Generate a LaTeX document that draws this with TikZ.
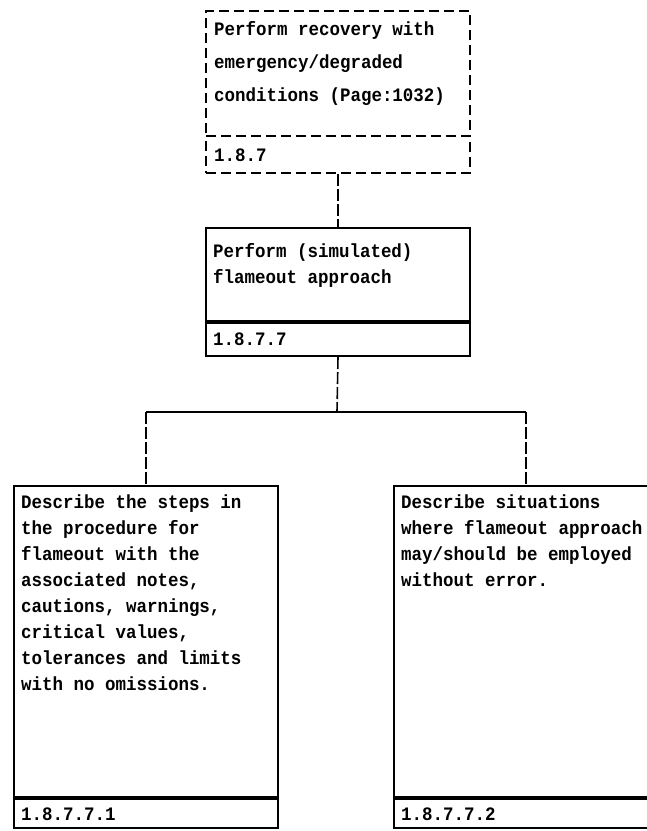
\documentclass[tikz,border=0pt]{standalone}
\usepackage{fontspec}
\setmonofont[FakeStretch=0.92]{Liberation Mono}
\begin{document}
\begin{tikzpicture}[x=1pt,y=-1pt,
  panel/.style={draw, line width=2pt, inner sep=0pt, anchor=north west, minimum width=264pt},
  dpanel/.style={panel, dash pattern=on 10pt off 5pt},
  link/.style={line width=1.6pt, dash pattern=on 12pt off 3pt},
  bar/.style={line width=1.8pt},
  txt/.style={anchor=base west, inner sep=0pt, font=\ttfamily\bfseries\fontsize{19}{26}\selectfont},
  wide/.style={txt, font=\ttfamily\bfseries\fontsize{19}{33}\selectfont},
]
\useasboundingbox (0,0) rectangle (647,831);
\clip (0,0) rectangle (647,831);

% top task (dashed)
\node[dpanel, minimum height=125pt] (topmain) at (205,10) {};
\node[dpanel, minimum height=37pt] (toplbl) at (205,135) {};
\node[wide] (toptxt) at (214,35) {\parbox[t]{250pt}{\raggedright Perform recovery with\\emergency/degraded\\conditions (Page:1032)}};
\node[txt] (topnum) at (214,161) {1.8.7};

% middle task
\node[panel, minimum height=93pt] (midmain) at (205,227) {};
\node[panel, minimum height=35pt] (midlbl) at (205,320) {};
\draw[line width=3.5pt] (midmain.south west) -- (midmain.south east);
\node[txt] (midtxt) at (213,257) {\parbox[t]{250pt}{\raggedright Perform (simulated)\\flameout approach}};
\node[txt] (midnum) at (213,345) {1.8.7.7};

% left subtask
\node[panel, minimum height=311pt] (lmain) at (13,485) {};
\node[panel, minimum height=31pt] (llbl) at (13,796) {};
\draw[line width=3pt] (lmain.south west) -- (lmain.south east);
\node[txt] (ltxt) at (21,508) {\parbox[t]{250pt}{\raggedright Describe the steps in\\the procedure for\\flameout with the\\associated notes,\\cautions, warnings,\\critical values,\\tolerances and limits\\with no omissions.}};
\node[txt] (lnum) at (21,820) {1.8.7.7.1};

% right subtask
\node[panel, minimum height=311pt] (rmain) at (393,485) {};
\node[panel, minimum height=31pt] (rlbl) at (393,796) {};
\draw[line width=3pt] (rmain.south west) -- (rmain.south east);
\node[txt] (rtxt) at (401,508) {\parbox[t]{250pt}{\raggedright Describe situations\\where flameout approach\\may/should be employed\\without error.}};
\node[txt] (rnum) at (401,820) {1.8.7.7.2};

% connectors
\coordinate (fork) at (337,412);
\draw[link] (toplbl.south) -- (midmain.north);
\draw[link] (midlbl.south) -- (fork);
\draw[bar] (lmain.north |- fork) -- (rmain.north |- fork);
\draw[link] (lmain.north |- fork) -- (lmain.north);
\draw[link] (rmain.north |- fork) -- (rmain.north);
\end{tikzpicture}
\end{document}
